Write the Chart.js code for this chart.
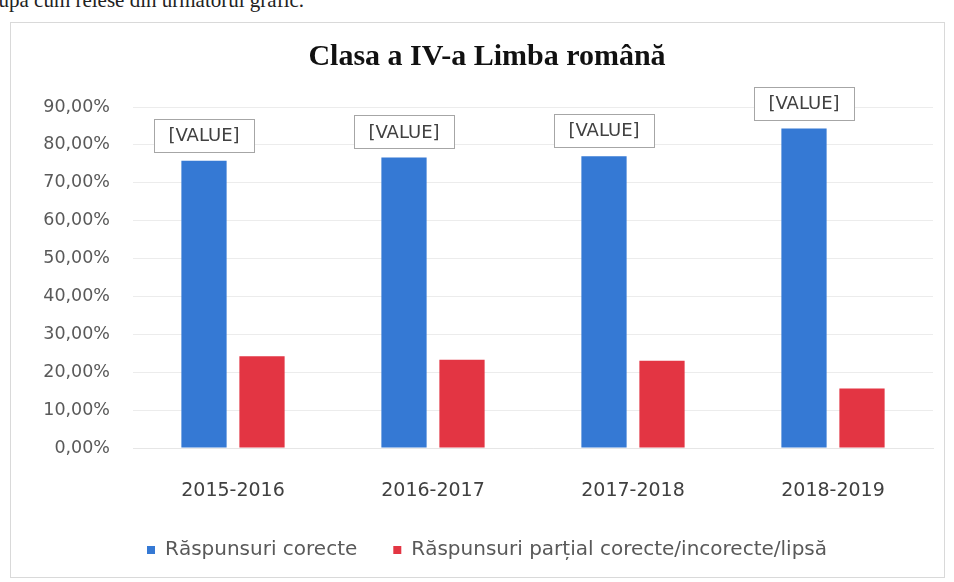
<!DOCTYPE html>
<html>
<head>
<meta charset="utf-8">
<script src="https://cdn.jsdelivr.net/npm/chart.js@4"></script>
<style>
  html, body { margin: 0; padding: 0; background: #fff; }
  body { width: 954px; height: 582px; position: relative; overflow: hidden; }
  .lead { position: absolute; left: -12px; top: -12px; font: 21px "Liberation Serif", serif; color: #222; white-space: nowrap; }
  .box { position: absolute; left: 10px; top: 22px; width: 935px; height: 556px; box-sizing: border-box; border: 1px solid #d9d9d9; }
</style>
</head>
<body>
<div class="lead">după cum reiese din următorul grafic.</div>
<div class="box"><canvas id="chart" width="933" height="554"></canvas></div>
<script>
const years = ["2015-2016", "2016-2017", "2017-2018", "2018-2019"];
const corecte = [75.8, 76.7, 77.0, 84.3];
const partiale = [24.2, 23.3, 23.0, 15.7];
const seriesNames = ["Răspunsuri corecte", "Răspunsuri parțial corecte/incorecte/lipsă"];
const yTicks = [0, 10, 20, 30, 40, 50, 60, 70, 80, 90];

// casetele "[VALUE]" de deasupra barelor albastre
const valueBoxes = {
  id: "valueBoxes",
  afterDatasetsDraw(chart) {
    const { ctx } = chart;
    const meta = chart.getDatasetMeta(0);
    ctx.save();
    ctx.font = "18px 'DejaVu Sans'";
    ctx.textAlign = "center";
    ctx.textBaseline = "middle";
    meta.data.forEach((bar) => {
      const w = 100, h = 33;
      const x = bar.x - w / 2, y = bar.y - 9 - h;
      ctx.fillStyle = "#fff";
      ctx.fillRect(x, y, w, h);
      ctx.strokeStyle = "#a6a6a6";
      ctx.lineWidth = 1;
      ctx.strokeRect(Math.round(x) + 0.5, Math.round(y) + 0.5, w, h);
      ctx.fillStyle = "#404040";
      ctx.fillText("[VALUE]", bar.x, y + h / 2 + 1);
    });
    ctx.restore();
  }
};

new Chart(document.getElementById("chart"), {
  type: "bar",
  data: {
    labels: years,
    datasets: [
      { label: seriesNames[0], data: corecte, backgroundColor: "#3579d4" },
      { label: seriesNames[1], data: partiale, backgroundColor: "#e33543" }
    ]
  },
  options: {
    responsive: false,
    animation: false,
    categoryPercentage: 0.58,
    barPercentage: 0.78,
    layout: { padding: { left: 30, right: 11, top: 0, bottom: 7 } },
    plugins: {
      title: {
        display: true,
        text: "Clasa a IV-a Limba română",
        font: { family: "'Liberation Serif'", size: 30, weight: "bold" },
        color: "#111",
        padding: { top: 16, bottom: 32 }
      },
      legend: {
        position: "bottom",
        labels: {
          boxWidth: 8,
          boxHeight: 8,
          padding: 36,
          color: "#595959",
          font: { family: "'DejaVu Sans'", size: 20 }
        }
      },
      tooltip: { enabled: false }
    },
    scales: {
      x: {
        grid: { display: false },
        border: { color: "#e6e6e6" },
        ticks: { color: "#404040", font: { family: "'DejaVu Sans'", size: 19 }, padding: 24 },
        afterFit: (s) => { s.height = 56; }
      },
      y: {
        min: 0,
        max: 90,
        afterBuildTicks: (s) => { s.ticks = yTicks.map((v) => ({ value: v })); },
        grid: { color: "#ececec", drawTicks: false },
        border: { display: false },
        ticks: {
          color: "#595959",
          padding: 23,
          font: { family: "'DejaVu Sans'", size: 17.5 },
          callback: (v) => v.toFixed(2).replace(".", ",") + "%"
        },
        afterFit: (s) => { s.width = 92; }
      }
    }
  },
  plugins: [valueBoxes]
});
</script>
</body>
</html>
